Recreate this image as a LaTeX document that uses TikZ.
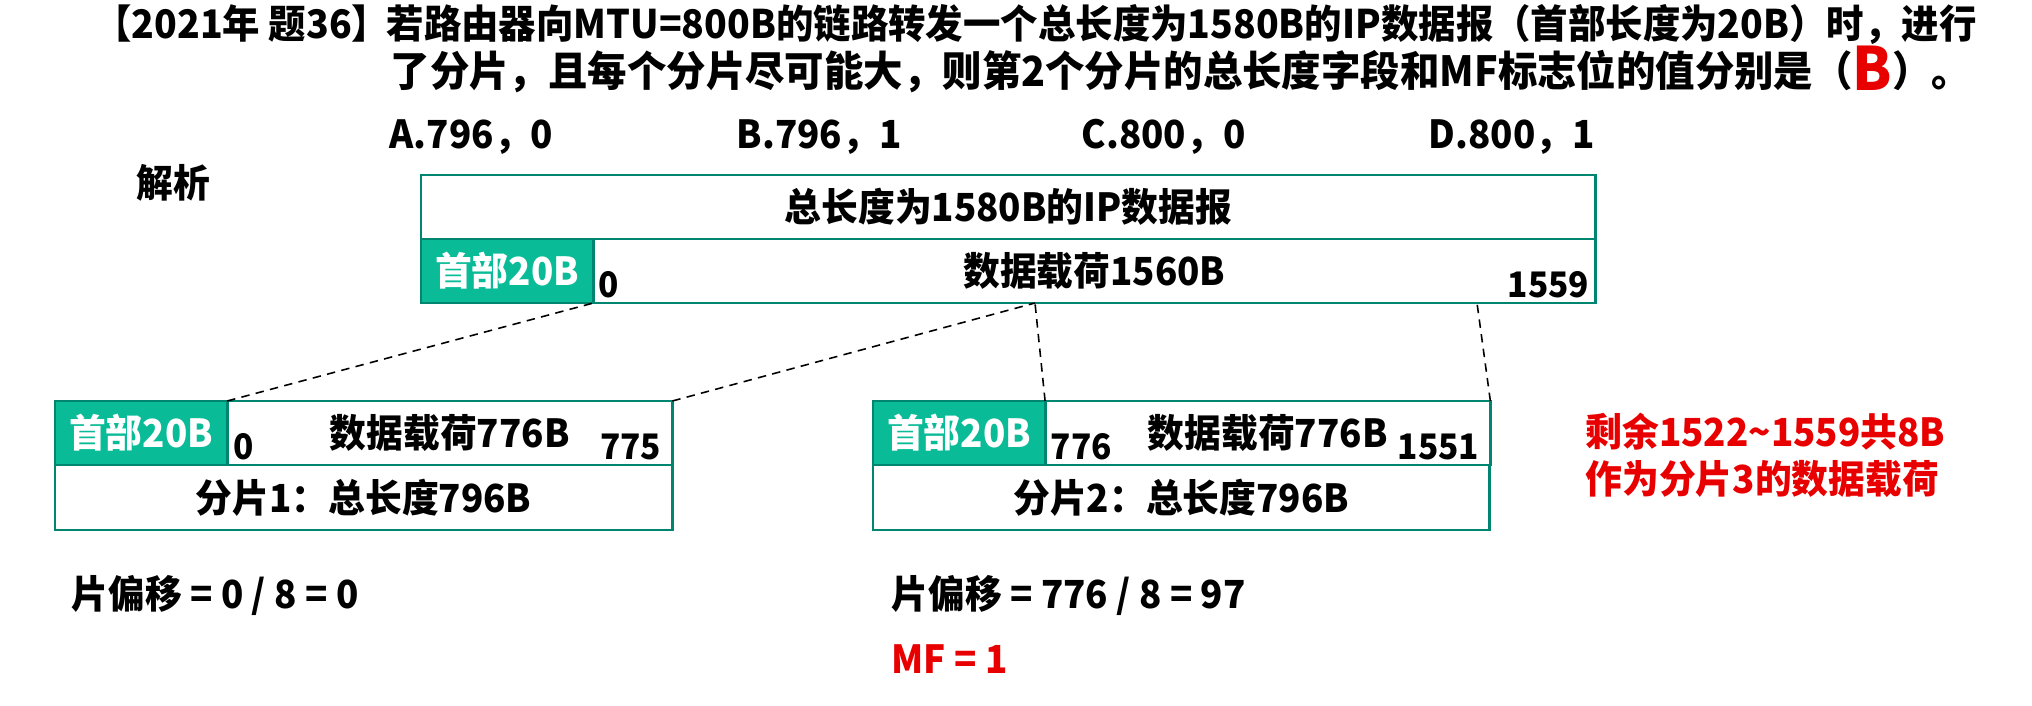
\documentclass[tikz,border=0pt]{standalone}
\usepackage{fontspec}
\setmainfont{Noto Sans CJK SC}[FakeStretch=0.95]
\usepackage{xcolor}
\usetikzlibrary{positioning}

\definecolor{frame}{RGB}{0,133,112}
\definecolor{hdrfill}{RGB}{10,187,152}
\definecolor{ansred}{RGB}{232,0,0}

\tikzset{
  cell/.style={draw=frame,line width=0.8pt,inner sep=0pt,outer sep=0pt,
    minimum height=0.64cm,font=\fontsize{11}{13}\selectfont\bfseries},
  hdr/.style={cell,fill=hdrfill,text=white,minimum width=1.72cm},
  txt/.style={inner sep=0pt,font=\fontsize{11}{13}\selectfont\bfseries},
  qtxt/.style={txt,text height=8pt,text depth=2pt},
  num/.style={inner sep=0pt,font=\fontsize{10}{12}\selectfont\bfseries},
  cut/.style={dash pattern=on 2.4pt off 1.8pt,line width=0.45pt}
}

\begin{document}
\begin{tikzpicture}[x=0.01cm,y=-0.01cm]
    \useasboundingbox (0,0) rectangle (2032,706);

    \node[qtxt,anchor=base east,font=\fontsize{11.2}{13}\selectfont\bfseries] (qtag) at (390,38) {【2021年 题36】};
    \node[qtxt,anchor=base west,font=\fontsize{11.2}{13}\selectfont\bfseries] (qline1) at (386,38)
    {若路由器向MTU=800B的链路转发一个总长度为1580B的IP数据报（首部长度为20B）时，进行};
    \node[qtxt,anchor=base west,font=\fontsize{11.8}{13}\selectfont\bfseries] (qline2) at (390,86)
    {了分片，且每个分片尽可能大，则第2个分片的总长度字段和MF标志位的值分别是（\smash{\raisebox{-1.2pt}{\color{ansred}\fontsize{17}{17}\selectfont B}}）。};
    \foreach \name/\opt/\x in {optA/A.796，0/389,optB/B.796，1/736,optC/C.800，0/1081,optD/D.800，1/1428}
    \node[txt,anchor=base west] (\name) at (\x,148) {\opt};
    \node[txt,anchor=west] (hint) at (136,183) {解析};

    % original datagram
    \node[cell,anchor=north west,minimum width=11.74cm] (dgram) at (421,175) {总长度为1580B的IP数据报};
    \node[hdr,anchor=north west] (dhead) at (dgram.south west) {首部20B};
    \node[cell,right=0pt of dhead,minimum width=10.02cm] (dpay) {数据载荷1560B};
    \node[num,anchor=base west] (dfirst) at (598,297) {0};
    \node[num,anchor=base east] (dlast) at (1590,297) {1559};

    % fragment 1
    \node[hdr,anchor=north west] (f1head) at (55,401) {首部20B};
    \node[cell,right=0pt of f1head,minimum width=4.45cm] (f1pay) {数据载荷776B};
    \node[cell,anchor=north west,minimum width=6.17cm,minimum height=0.65cm] (f1len) at (f1head.south west) {分片1：总长度796B};
    \node[num,anchor=base west] (f1first) at (233,459) {0};
    \node[num,anchor=base east] (f1last) at (662,459) {775};

    % fragment 2
    \node[hdr,anchor=north west] (f2head) at (873,401) {首部20B};
    \node[cell,right=0pt of f2head,minimum width=4.45cm] (f2pay) {数据载荷776B};
    \node[cell,anchor=north west,minimum width=6.16cm,minimum height=0.65cm] (f2len) at (f2head.south west) {分片2：总长度796B};
    \node[num,anchor=base west] (f2first) at (1050,459) {776};
    \node[num,anchor=base east] (f2last) at (1480,459) {1551};

    \coordinate (cutA) at (1035,303);
    \coordinate (cutB) at (1477,303);
    \draw[cut] (f1head.north east) -- (dhead.south east);
    \draw[cut] (f1pay.north east) -- (cutA);
    \draw[cut] (f2head.north east) -- (cutA);
    \draw[cut] (f2pay.north east) -- (cutB);

    \node[txt,text=ansred,anchor=west] (rest1) at (1585,432) {剩余1522\textasciitilde1559共8B};
    \node[txt,text=ansred,anchor=west] (rest2) at (1585,479) {作为分片3的数据载荷};

    \node[txt,anchor=west] (off1) at (71,596) {片偏移 = 0 / 8 = 0};
    \node[txt,anchor=west] (off2) at (891,596) {片偏移 = 776 / 8 = 97};
    \node[txt,text=ansred,anchor=west] (mf2) at (891,659) {MF = 1};

  \end{tikzpicture}
\end{document}
